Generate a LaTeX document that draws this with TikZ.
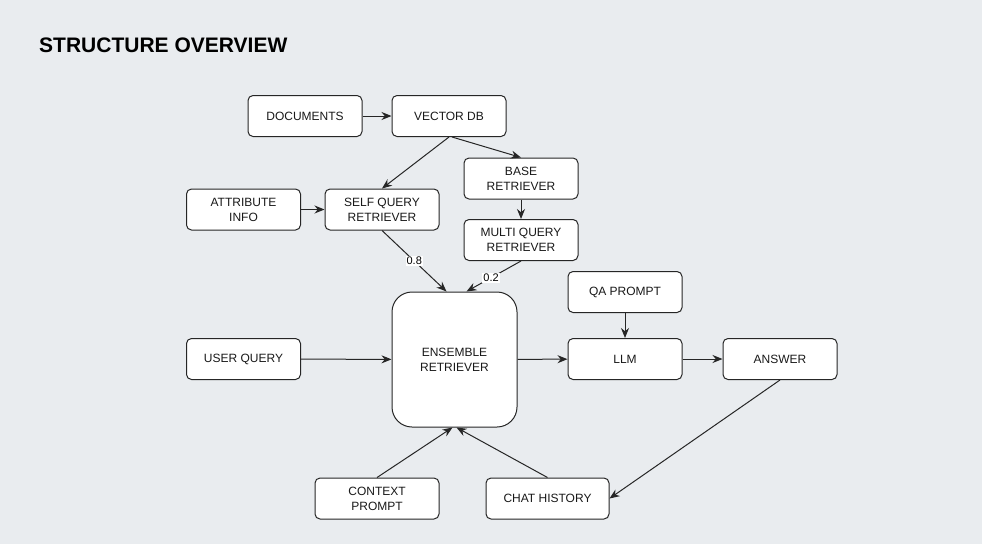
\documentclass[tikz,border=0pt]{standalone}
\usepackage{fontspec}
\setmainfont{Liberation Sans}
\usetikzlibrary{arrows.meta,calc}
\definecolor{pagebg}{HTML}{E9ECEF}
\tikzset{
    box/.style={draw=black!85, fill=white, line width=1pt, rounded corners=5pt,
        minimum width=114pt, minimum height=41pt, align=center, inner sep=0pt,
        font=\fontsize{12}{15}\selectfont, text=black!90},
    link/.style={draw=black!85, line width=1pt, -{Stealth[length=10pt,width=8pt]}},
    weight/.style={fill=white, inner sep=1pt, font=\fontsize{11}{13}\selectfont}
}
\begin{document}
\begin{tikzpicture}[x=1pt,y=-1pt]
    % background and frame
    \fill[pagebg] (0,0) rectangle (982,544);
    \useasboundingbox (0,0) rectangle (982,544);
    \node[anchor=base west, inner sep=0pt, font=\fontsize{21}{25}\selectfont\bfseries] (title) at (39,52) {STRUCTURE OVERVIEW};

    % sources
    \node[box] (docs) at (305,116) {DOCUMENTS};
    \node[box] (vdb) at (449,116) {VECTOR DB};
    \node[box] (attr) at (243.5,209.5) {ATTRIBUTE\\INFO};
    \node[box] (sqr) at (382,209.5) {SELF QUERY\\RETRIEVER};
    \node[box] (base) at (521,178.5) {BASE\\RETRIEVER};
    \node[box] (mqr) at (521,240) {MULTI QUERY\\RETRIEVER};

    % middle row
    \node[box] (uq) at (243.5,359) {USER QUERY};
    \node[box, minimum width=125pt, minimum height=135pt, rounded corners=20pt] (ens) at (454.5,359.5) {ENSEMBLE\\RETRIEVER};
    \node[box] (qa) at (625,292) {QA PROMPT};
    \node[box] (llm) at (625,359) {LLM};
    \node[box] (ans) at (780,359) {ANSWER};

    % bottom row
    \node[box, minimum width=124pt] (ctx) at (377,498.5) {CONTEXT\\PROMPT};
    \node[box, minimum width=123pt] (chat) at (547.5,498.5) {CHAT HISTORY};

    % connectors
    \draw[link] (docs) -- (vdb);
    \draw[link] (vdb.south) -- (sqr.north);
    \draw[link] ($(vdb.south)+(3,0)$) -- (base.north);
    \draw[link] (base) -- (mqr);
    \draw[link] (attr) -- (sqr);
    \draw[link] (sqr.south) -- node[weight, pos=0.5] {0.8} ($(ens.north)+(-8,0)$);
    \draw[link] (mqr.south) -- node[weight, pos=0.55] {0.2} ($(ens.north)+(12,0)$);
    \draw[link] (uq) -- (ens);
    \draw[link] (ens) -- (llm);
    \draw[link] (qa) -- (llm);
    \draw[link] (llm) -- (ans);
    \draw[link] (ans.south) -- (chat.east);
    \draw[link] (ctx.north) -- ($(ens.south)+(-2,0)$);
    \draw[link] (chat.north) -- ($(ens.south)+(2,0)$);
\end{tikzpicture}
\end{document}
